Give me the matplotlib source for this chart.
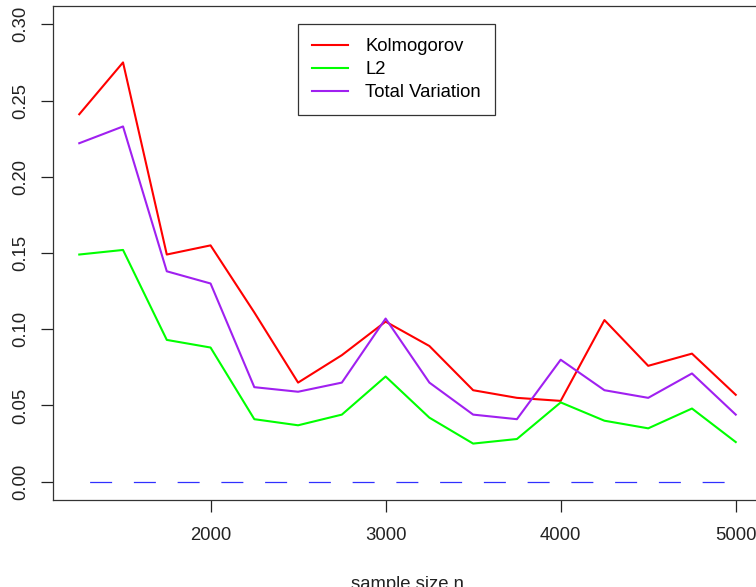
import matplotlib
matplotlib.use("Agg")
import matplotlib.pyplot as plt
from matplotlib.ticker import FormatStrFormatter

plt.rcParams['font.family'] = ['Liberation Sans', 'DejaVu Sans']

# sample sizes and distances
n = [1250, 1500, 1750, 2000, 2250, 2500, 2750, 3000,
     3250, 3500, 3750, 4000, 4250, 4500, 4750, 5000]
kolmogorov = [0.241, 0.275, 0.149, 0.155, 0.111, 0.065, 0.083, 0.105,
              0.089, 0.060, 0.055, 0.053, 0.106, 0.076, 0.084, 0.057]
l2 = [0.149, 0.152, 0.093, 0.088, 0.041, 0.037, 0.044, 0.069,
      0.042, 0.025, 0.028, 0.052, 0.040, 0.035, 0.048, 0.026]
total_var = [0.222, 0.233, 0.138, 0.130, 0.062, 0.059, 0.065, 0.107,
             0.065, 0.044, 0.041, 0.080, 0.060, 0.055, 0.071, 0.044]
zero = [0.0] * len(n)

fig = plt.figure(figsize=(7.56, 5.87), dpi=100)
ax = fig.add_axes([53 / 756, 87 / 587, 709 / 756, 494 / 587])

ax.plot(n, kolmogorov, color='#ff0000', lw=1.5, label='Kolmogorov')
ax.plot(n, l2, color='#00ff00', lw=1.5, label='L2')
ax.plot(n, total_var, color='#a020f0', lw=1.5, label='Total Variation')
ax.plot(n, zero, color='#3030ff', lw=0.9,
        linestyle=(26.5, (17.6, 17.4)))

ax.set_xlim(1100, 5150)
ax.set_ylim(-0.012, 0.312)
ax.set_xticks([2000, 3000, 4000, 5000])
ax.set_yticks([0, 0.05, 0.10, 0.15, 0.20, 0.25, 0.30])
ax.yaxis.set_major_formatter(FormatStrFormatter('%.2f'))
ax.tick_params(axis='both', direction='out', length=8.4, width=0.9,
               labelsize=13.3, colors='#222222')
ax.tick_params(axis='x', pad=11)
ax.tick_params(axis='y', pad=8.6)
for lab in ax.get_yticklabels():
    lab.set_rotation(90)
    lab.set_va('center')
for s in ax.spines.values():
    s.set_color('#333333')
    s.set_linewidth(0.9)

ax.set_xlabel('sample size n', fontsize=13.3, labelpad=23, color='#222222')

leg = ax.legend(loc='upper left', bbox_to_anchor=((297.7 - 53) / 709, (500 - 24.3) / 494),
                borderaxespad=0, fontsize=13.3, fancybox=False,
                edgecolor='#333333', framealpha=1, handlelength=1.95,
                handletextpad=0.95, labelspacing=0.33, borderpad=0.75)
leg.get_frame().set_linewidth(0.9)

fig.savefig('out.png', dpi=100)
